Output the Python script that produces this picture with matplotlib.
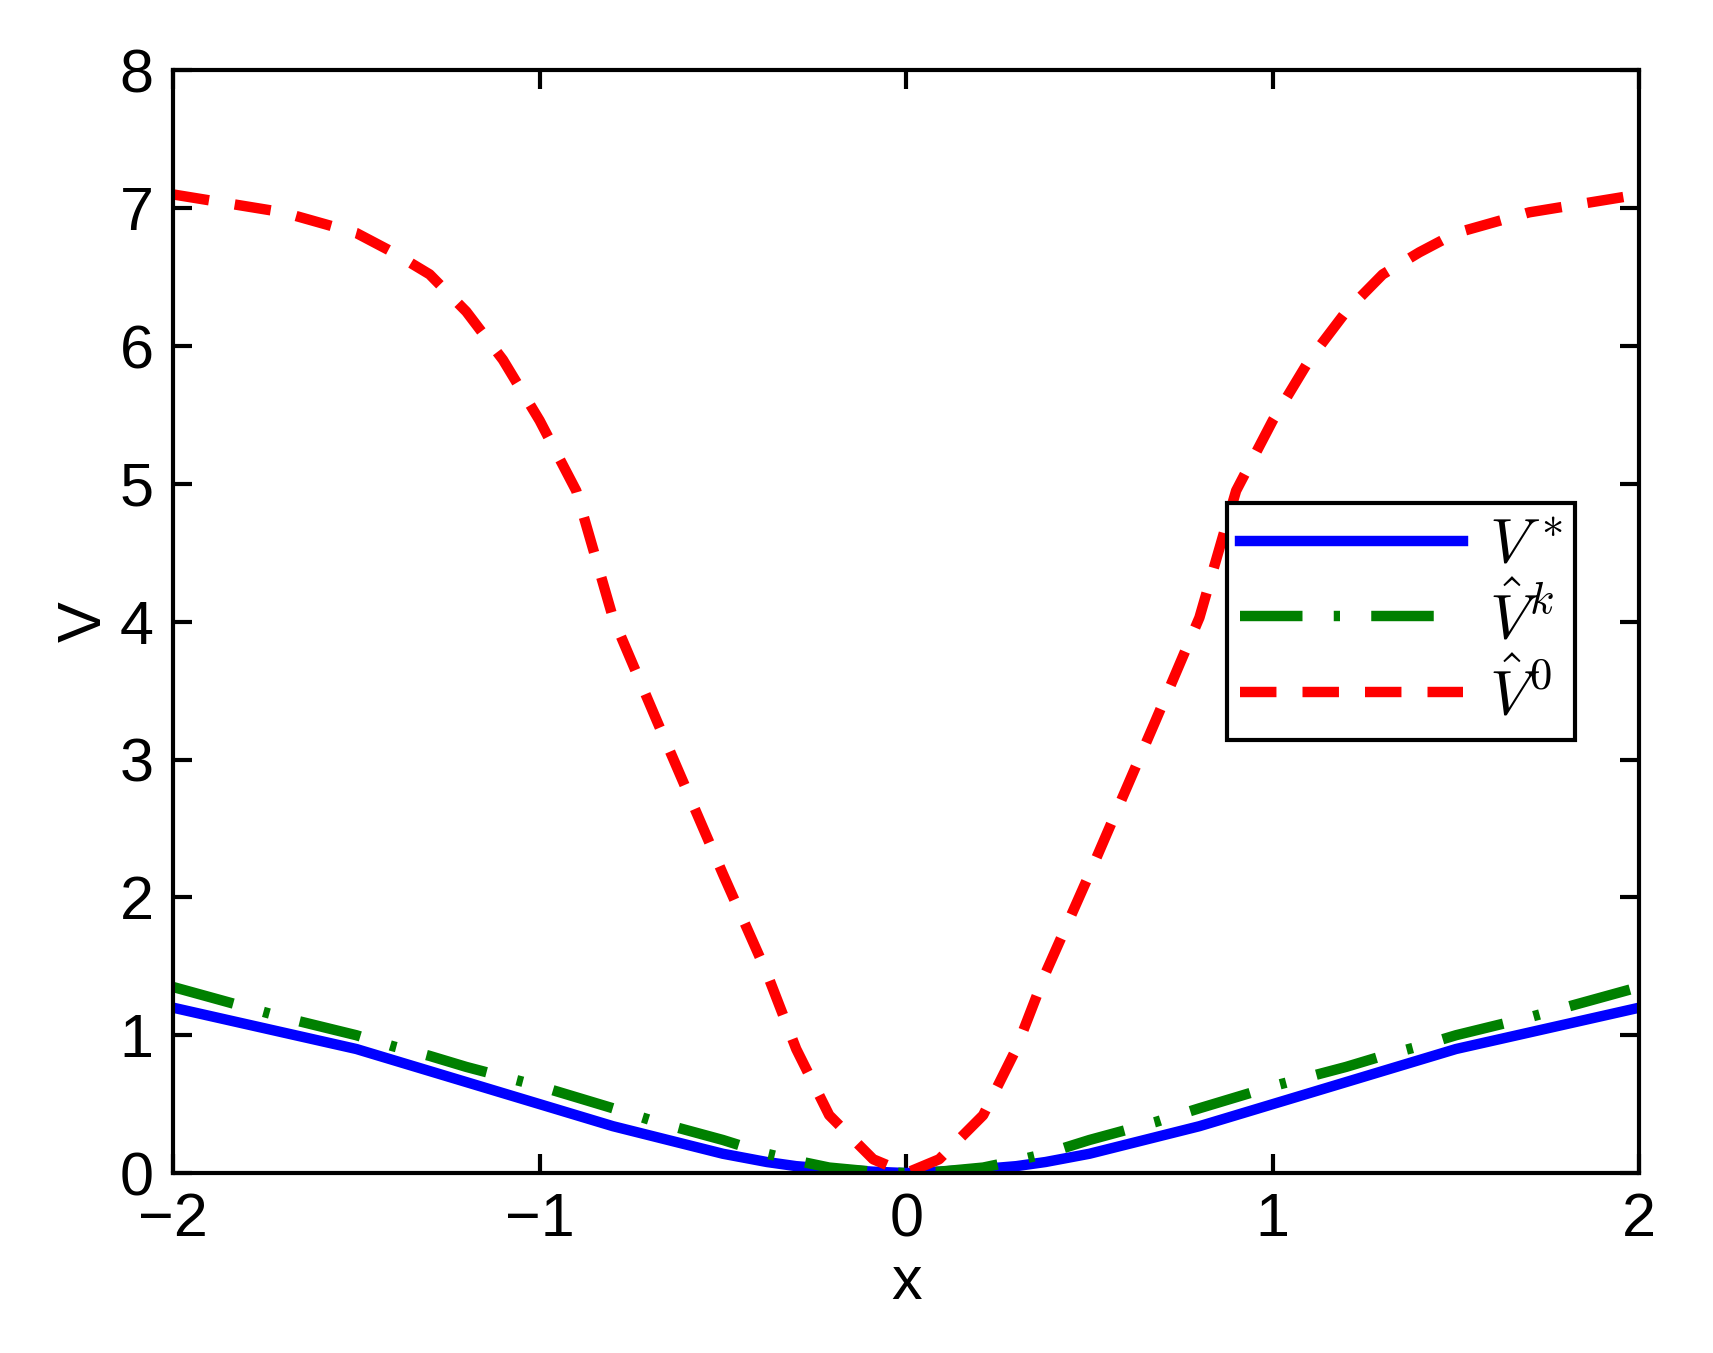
import numpy as np
import matplotlib.pyplot as plt

plt.rcParams["font.family"] = ["Liberation Sans", "DejaVu Sans"]
plt.rcParams["mathtext.fontset"] = "cm"

x = [-2.0, -1.7, -1.5, -1.4, -1.3, -1.2, -1.1, -1.0, -0.9, -0.8, -0.68, -0.5,
     -0.38, -0.3, -0.21, -0.09, 0.0,
     0.09, 0.21, 0.3, 0.38, 0.5, 0.68, 0.8, 0.9, 1.0, 1.1, 1.2, 1.3, 1.4, 1.5, 1.7, 2.0]
v_star = [1.2, 1.02, 0.9, 0.82, 0.74, 0.66, 0.58, 0.5, 0.42, 0.34, 0.26, 0.14,
          0.08, 0.05, 0.03, 0.01, 0.0,
          0.01, 0.03, 0.05, 0.08, 0.14, 0.26, 0.34, 0.42, 0.5, 0.58, 0.66, 0.74, 0.82, 0.9, 1.02, 1.2]
v_k = [1.35, 1.13, 1.0, 0.92, 0.85, 0.77, 0.7, 0.63, 0.55, 0.47, 0.37, 0.24,
       0.14, 0.09, 0.04, 0.01, 0.0,
       0.01, 0.04, 0.09, 0.14, 0.24, 0.37, 0.47, 0.55, 0.63, 0.7, 0.77, 0.85, 0.92, 1.0, 1.13, 1.35]
v_0 = [7.1, 6.97, 6.82, 6.68, 6.52, 6.25, 5.9, 5.46, 4.95, 4.03, 3.28, 2.17,
       1.45, 0.9, 0.42, 0.1, 0.0,
       0.1, 0.42, 0.9, 1.45, 2.17, 3.28, 4.03, 4.95, 5.46, 5.9, 6.25, 6.52, 6.68, 6.82, 6.97, 7.1]

fig = plt.figure(figsize=(17.13, 13.53), dpi=100)
ax = fig.add_axes([0.101, 0.133, 0.856, 0.815])

ax.plot(x, v_star, color="blue", lw=7.5, label=r"$V^*$")
ax.plot(x, v_k, color="green", lw=7.5, dashes=(6, 3, 0.6, 3), label=r"$\hat{V}^k$")
ax.plot(x, v_0, color="red", lw=7.5, dashes=(3.5, 2.5), label=r"$\hat{V}^0$")

ax.set_xlim(-2, 2)
ax.set_ylim(0, 8)
ax.set_xticks([-2, -1, 0, 1, 2])
ax.set_xticklabels(["\u22122", "\u22121", "0", "1", "2"])
ax.set_yticks(range(9))
ax.tick_params(labelsize=44, direction="in", length=14, width=3, pad=14,
               top=True, right=True)
for s in ax.spines.values():
    s.set_linewidth(3)
ax.set_xlabel("x", fontsize=44)
ax.set_ylabel("V", fontsize=44)

leg = ax.legend(loc="center right", bbox_to_anchor=(0.978, 0.50), fontsize=46,
                fancybox=False, edgecolor="black", framealpha=1, handlelength=3.5,
                borderpad=0.2, labelspacing=0.15, handletextpad=0.4)
leg.get_frame().set_linewidth(3)

fig.savefig("out.png", dpi=100)
